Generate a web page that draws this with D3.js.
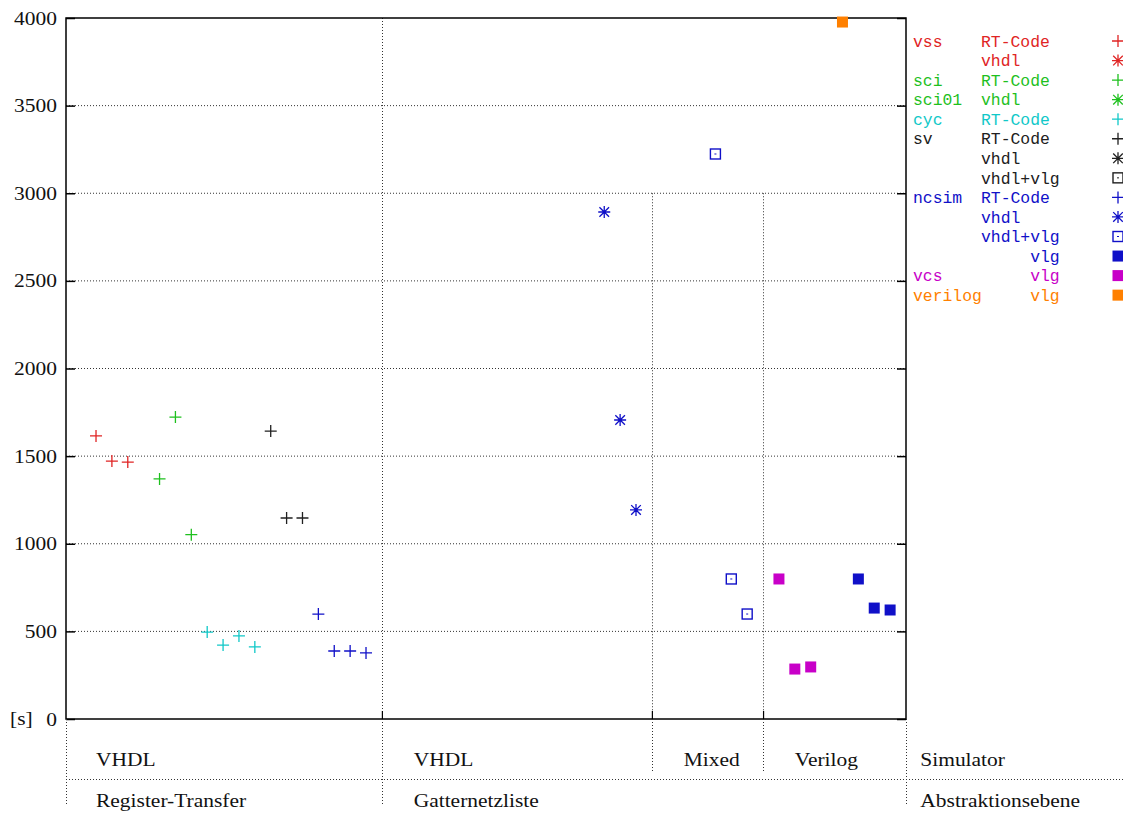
<!DOCTYPE html>
<html><head><meta charset="utf-8">
<script src="https://cdn.jsdelivr.net/npm/d3@7"></script>
<style>
html,body{margin:0;padding:0;background:#fff;}
svg{display:block;}
.serif{font-family:"Liberation Serif","DejaVu Serif",serif;}
.mono{font-family:"Liberation Mono","DejaVu Sans Mono",monospace;white-space:pre;}
</style></head>
<body>
<script>
// ---- data ----
const yTicks = [0,500,1000,1500,2000,2500,3000,3500,4000];
const xSeparators = [20,37,44];
const simulatorLabels = [{x:2,t:"VHDL"},{x:22,t:"VHDL"},{x:39,t:"Mixed"},{x:46,t:"Verilog"},{x:53.9,t:"Simulator"}];
const levelLabels = [{x:2,t:"Register-Transfer"},{x:22,t:"Gatternetzliste"},{x:53.9,t:"Abstraktionsebene"}];

const vssRT    = [[2,1615],[3,1472],[4,1466]];
const sciRT    = [[6,1370],[7,1723],[8,1052]];
const cycRT    = [[9,496],[10,422],[11,474],[12,411]];
const svRT     = [[13,1643],[14,1147],[15,1147]];
const ncsimRT  = [[16,599],[17,388],[18,388],[19,377]];
const ncsimVhdl= [[34,2893],[35,1706],[36,1193]];
const ncsimMix = [[41,3224],[42,799],[43,599]];
const vcsVlg   = [[45,799],[46,285],[47,297]];
const verilogVlg=[[49,3977]];
const ncsimVlg = [[50,799],[51,633],[52,622]];

const C = {red:"#e02424", green:"#1ec01e", cyan:"#10c8c8", black:"#202020", blue:"#1010c8", magenta:"#c800c8", orange:"#ff8000"};

const series = [
  {data:vssRT, color:C.red, shape:"plus"},
  {data:sciRT, color:C.green, shape:"plus"},
  {data:cycRT, color:C.cyan, shape:"plus"},
  {data:svRT, color:C.black, shape:"plus"},
  {data:ncsimRT, color:C.blue, shape:"plus"},
  {data:ncsimVhdl, color:C.blue, shape:"star"},
  {data:ncsimMix, color:C.blue, shape:"box"},
  {data:vcsVlg, color:C.magenta, shape:"fbox"},
  {data:ncsimVlg, color:C.blue, shape:"fbox"},
  {data:verilogVlg, color:C.orange, shape:"fbox"}
];

const legendRows = [
  {a:"vss",b:"RT-Code",color:C.red,shape:"plus"},
  {a:"",b:"vhdl",color:C.red,shape:"star"},
  {a:"sci",b:"RT-Code",color:C.green,shape:"plus"},
  {a:"sci01",b:"vhdl",color:C.green,shape:"star"},
  {a:"cyc",b:"RT-Code",color:C.cyan,shape:"plus"},
  {a:"sv",b:"RT-Code",color:C.black,shape:"plus"},
  {a:"",b:"vhdl",color:C.black,shape:"star"},
  {a:"",b:"vhdl+vlg",color:C.black,shape:"box"},
  {a:"ncsim",b:"RT-Code",color:C.blue,shape:"plus"},
  {a:"",b:"vhdl",color:C.blue,shape:"star"},
  {a:"",b:"vhdl+vlg",color:C.blue,shape:"box"},
  {a:"",b:"     vlg",color:C.blue,shape:"fbox"},
  {a:"vcs",b:"     vlg",color:C.magenta,shape:"fbox"},
  {a:"verilog",b:"     vlg",color:C.orange,shape:"fbox"}
];

// ---- layout ----
const W=1123,H=819;
const L=66,R=906,T=18,B=719;
const SX=1.13;
const svg=d3.select("body").append("svg").attr("width",W).attr("height",H);
const x=d3.scaleLinear().domain([0.11,53]).range([L,R]);
const y=d3.scaleLinear().domain([0,4000]).range([B,T]);
const dot="1,2";
const gridCol="#333";

// horizontal grid
svg.append("g").selectAll("line").data(yTicks.filter(d=>d>0&&d<4000)).join("line")
  .attr("x1",L).attr("x2",R).attr("y1",d=>y(d)).attr("y2",d=>y(d))
  .attr("stroke",gridCol).attr("stroke-dasharray",dot).attr("stroke-width",1);
// vertical separators inside plot
svg.append("g").selectAll("line").data(xSeparators).join("line")
  .attr("x1",d=>Math.round(x(d))+0.5).attr("x2",d=>Math.round(x(d))+0.5)
  .attr("y1",(d,i)=>i===0?T:y(3000)).attr("y2",B)
  .attr("stroke",gridCol).attr("stroke-dasharray",dot);

// y axis ticks (left and right, inward)
const yAxisL=d3.axisLeft(y).tickValues(yTicks).tickSize(-9).tickPadding(18).tickFormat(d3.format("d"));
const gL=svg.append("g").attr("transform",`translate(${L},0)`).call(yAxisL);
gL.select(".domain").remove();
gL.selectAll("line").attr("stroke","#000").attr("stroke-width",1.5);
gL.selectAll("text").attr("class","serif").style("font-size","19px").attr("fill","#111")
  .attr("x",-8).attr("transform",`scale(${SX},1)`);
const yAxisR=d3.axisRight(y).tickValues(yTicks).tickSize(-9).tickFormat("");
const gR=svg.append("g").attr("transform",`translate(${R},0)`).call(yAxisR);
gR.select(".domain").remove();
gR.selectAll("line").attr("stroke","#000").attr("stroke-width",1.5);
// x axis ticks at separators (bottom, inward)
const xAxis=d3.axisBottom(x).tickValues(xSeparators).tickSize(-8).tickFormat("");
const gX=svg.append("g").attr("transform",`translate(0,${B})`).call(xAxis);
gX.select(".domain").remove();
gX.selectAll("line").attr("stroke","#000").attr("stroke-width",1.2);

// border
svg.append("rect").attr("x",L).attr("y",T).attr("width",R-L).attr("height",B-T)
  .attr("fill","none").attr("stroke","#000").attr("stroke-width",1.5);

svg.append("text").attr("class","serif").attr("transform",`translate(10,${y(0)}) scale(${SX},1)`).attr("dy","0.33em")
  .style("font-size","19px").attr("fill","#111").text("[s]");

// bottom structure
const hy=779;
svg.append("line").attr("x1",L).attr("x2",W).attr("y1",hy+0.5).attr("y2",hy+0.5)
  .attr("stroke",gridCol).attr("stroke-dasharray",dot);
[L,x(20),R].forEach(v=>{
  svg.append("line").attr("x1",Math.round(v)+0.5).attr("x2",Math.round(v)+0.5).attr("y1",B).attr("y2",806)
   .attr("stroke",gridCol).attr("stroke-dasharray",dot);
});
[x(37),x(44)].forEach(v=>{
  svg.append("line").attr("x1",Math.round(v)+0.5).attr("x2",Math.round(v)+0.5).attr("y1",B).attr("y2",771)
   .attr("stroke",gridCol).attr("stroke-dasharray",dot);
});
svg.append("g").selectAll("text").data(simulatorLabels).join("text").attr("class","serif")
  .attr("transform",d=>`translate(${x(d.x)},766) scale(${SX},1)`).style("font-size","19px").attr("fill","#111").text(d=>d.t);
svg.append("g").selectAll("text").data(levelLabels).join("text").attr("class","serif")
  .attr("transform",d=>`translate(${x(d.x)},807) scale(${SX},1)`).style("font-size","19px").attr("fill","#111").text(d=>d.t);

// marker drawing
function marker(g,shape,color){
  const s=6;
  if(shape==="plus"||shape==="star"){
    g.append("path").attr("d",`M${-s},0H${s}M0,${-s}V${s}`+(shape==="star"?`M${-s*0.8},${-s*0.8}L${s*0.8},${s*0.8}M${-s*0.8},${s*0.8}L${s*0.8},${-s*0.8}`:""))
      .attr("stroke",color).attr("stroke-width",1.3).attr("fill","none");
  } else if(shape==="box"){
    g.append("rect").attr("x",-5).attr("y",-5).attr("width",10).attr("height",10)
      .attr("fill","none").attr("stroke",color).attr("stroke-width",1.4);
    g.append("rect").attr("x",-1).attr("y",-0.5).attr("width",2).attr("height",1).attr("fill",color);
  } else {
    g.append("rect").attr("x",-5.5).attr("y",-5.5).attr("width",11).attr("height",11).attr("fill",color);
  }
}
series.forEach(s=>{
  s.data.forEach(p=>{
    const g=svg.append("g").attr("transform",`translate(${x(p[0])},${y(p[1])})`);
    marker(g,s.shape,s.color);
  });
});

// legend
const lg=svg.append("g");
legendRows.forEach((r,i)=>{
  const yy=41+i*19.55;
  lg.append("text").attr("class","mono").attr("x",913).attr("y",yy).attr("dy","0.35em")
    .style("font-size","16.4px").attr("fill",r.color).text(r.a);
  lg.append("text").attr("class","mono").attr("x",981).attr("y",yy).attr("dy","0.35em")
    .style("font-size","16.4px").attr("fill",r.color).text(r.b);
  const g=lg.append("g").attr("transform",`translate(1118,${yy})`);
  marker(g,r.shape,r.color);
});
</script>
</body></html>
